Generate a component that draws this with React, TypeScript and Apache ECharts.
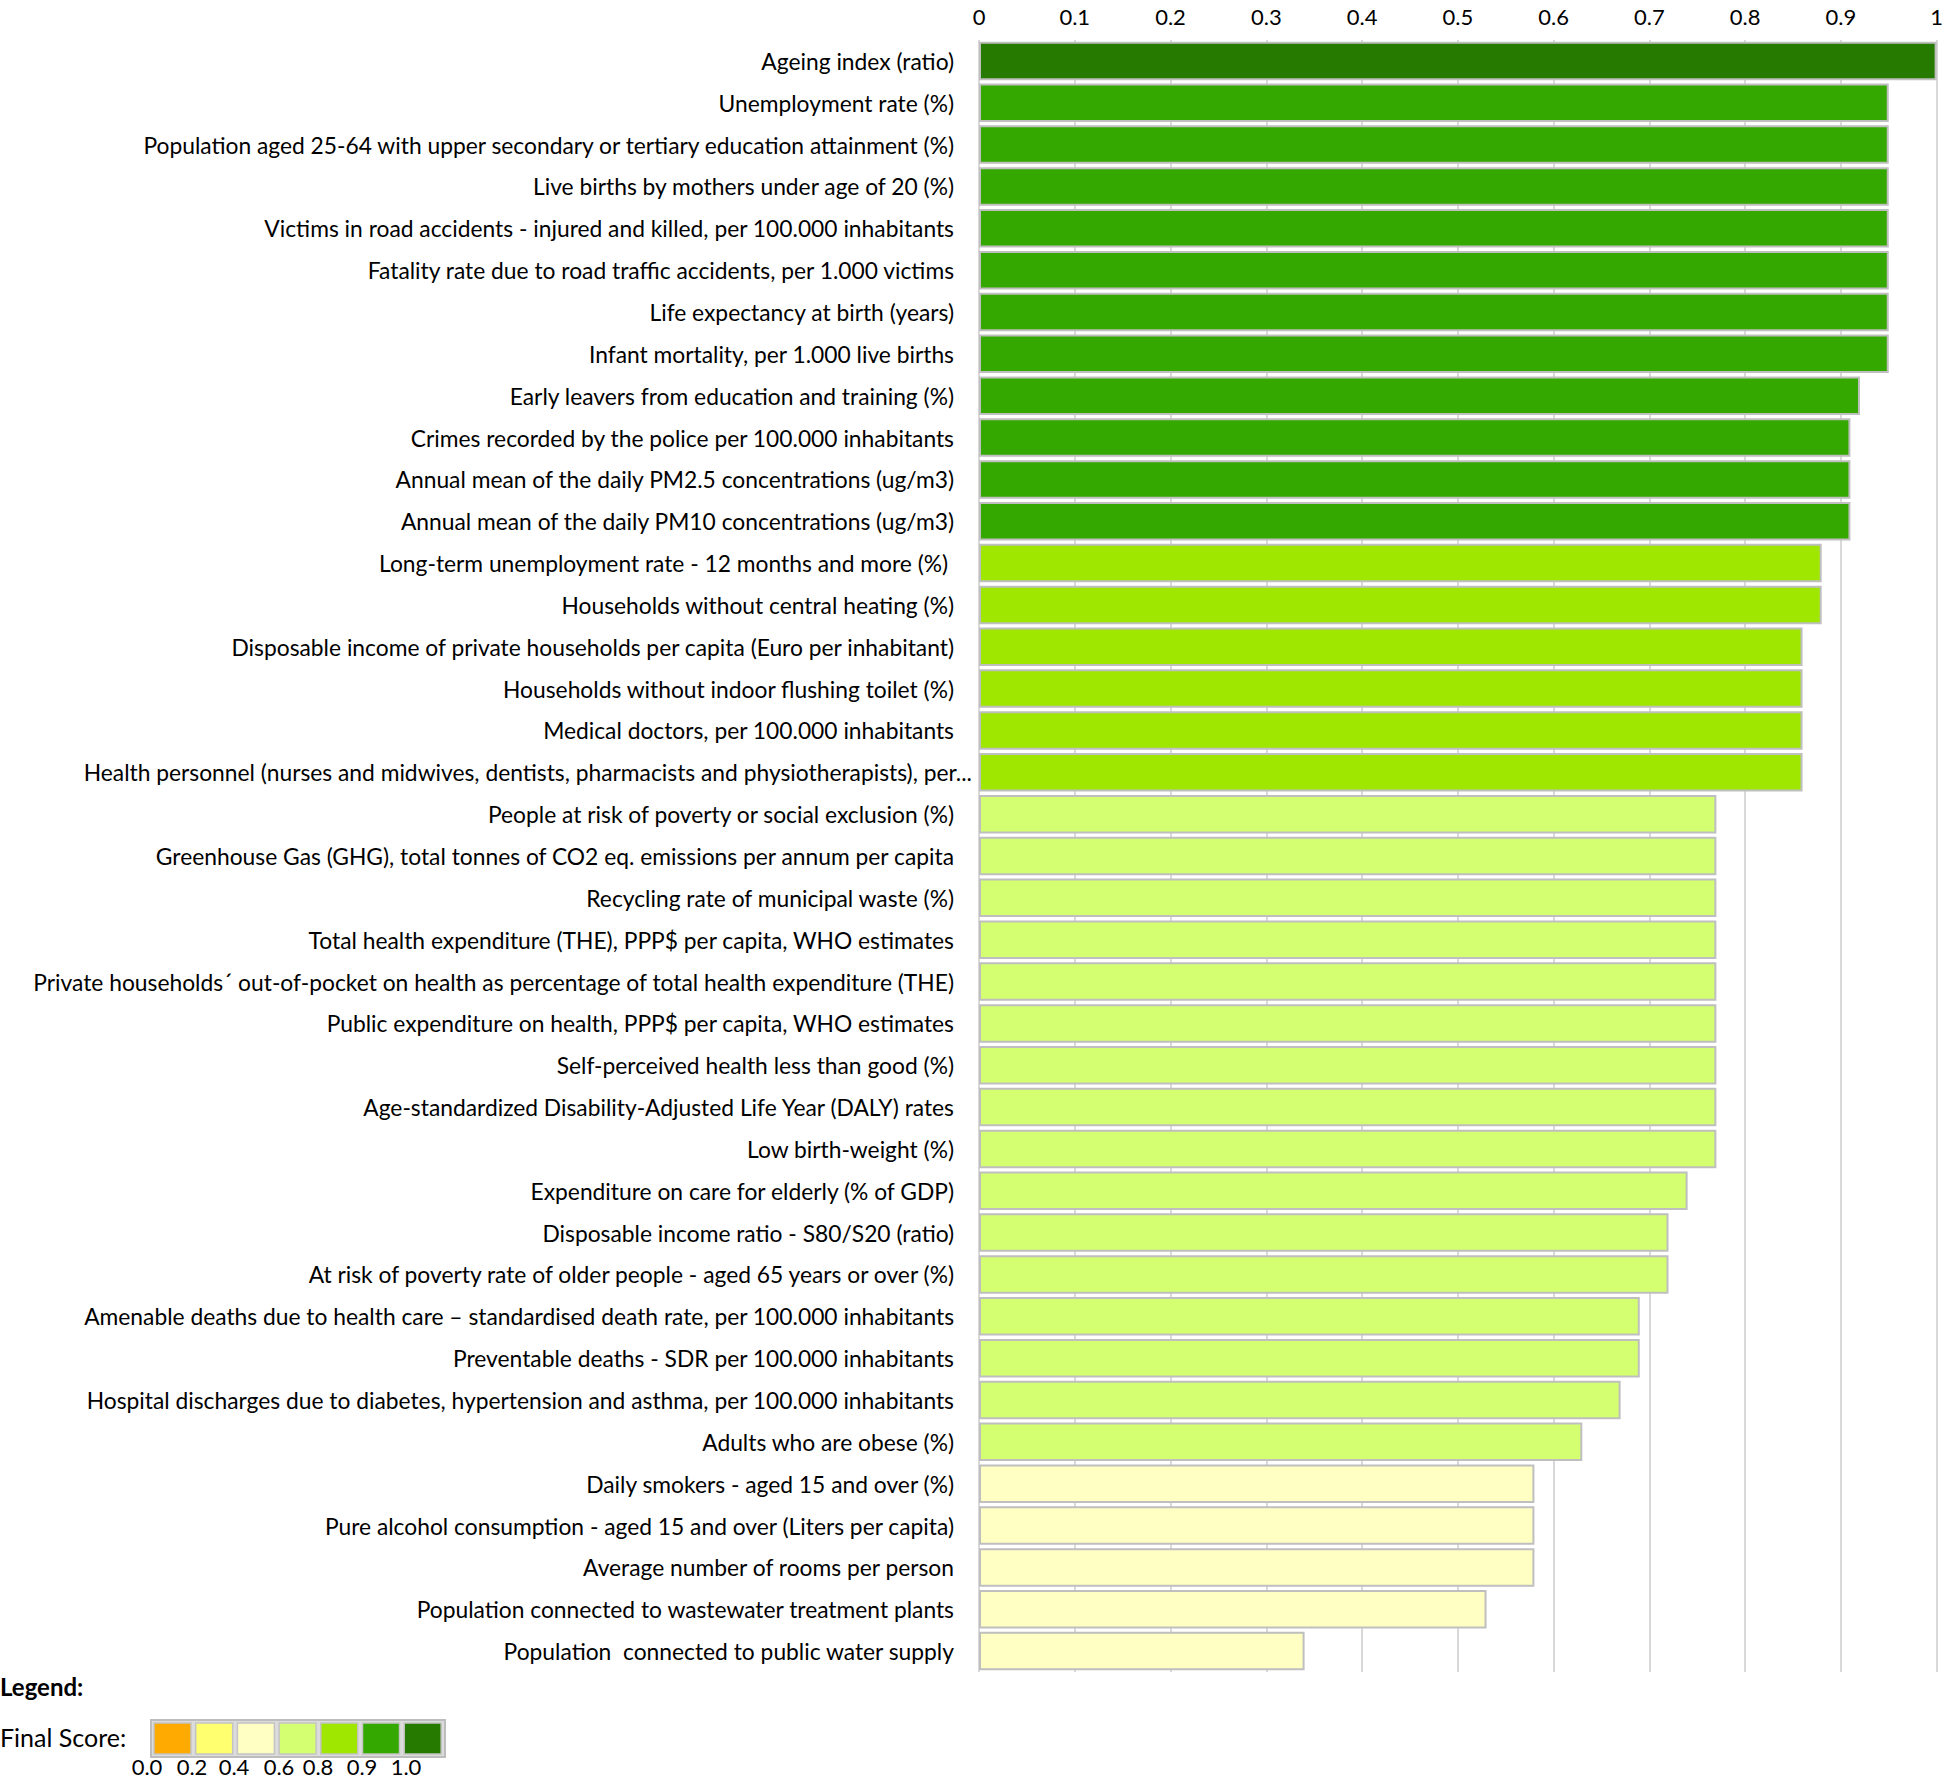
import React, { useEffect, useRef } from "react";
import * as echarts from "echarts";

const indicators: string[] = [
  "Ageing index (ratio)",
  "Unemployment rate (%)",
  "Population aged 25-64 with upper secondary or tertiary education attainment (%)",
  "Live births by mothers under age of 20 (%)",
  "Victims in road accidents - injured and killed, per 100.000 inhabitants",
  "Fatality rate due to road traffic accidents, per 1.000 victims",
  "Life expectancy at birth (years)",
  "Infant mortality, per 1.000 live births",
  "Early leavers from education and training (%)",
  "Crimes recorded by the police per 100.000 inhabitants",
  "Annual mean of the daily PM2.5 concentrations (ug/m3)",
  "Annual mean of the daily PM10 concentrations (ug/m3)",
  "Long-term unemployment rate - 12 months and more (%) ",
  "Households without central heating (%)",
  "Disposable income of private households per capita (Euro per inhabitant)",
  "Households without indoor flushing toilet (%)",
  "Medical doctors, per 100.000 inhabitants",
  "Health personnel (nurses and midwives, dentists, pharmacists and physiotherapists), per...",
  "People at risk of poverty or social exclusion (%)",
  "Greenhouse Gas (GHG), total tonnes of CO2 eq. emissions per annum per capita",
  "Recycling rate of municipal waste (%)",
  "Total health expenditure (THE), PPP$ per capita, WHO estimates",
  "Private households´ out-of-pocket on health as percentage of total health expenditure (THE)",
  "Public expenditure on health, PPP$ per capita, WHO estimates",
  "Self-perceived health less than good (%)",
  "Age-standardized Disability-Adjusted Life Year (DALY) rates",
  "Low birth-weight (%)",
  "Expenditure on care for elderly (% of GDP)",
  "Disposable income ratio - S80/S20 (ratio)",
  "At risk of poverty rate of older people - aged 65 years or over (%)",
  "Amenable deaths due to health care – standardised death rate, per 100.000 inhabitants",
  "Preventable deaths - SDR per 100.000 inhabitants",
  "Hospital discharges due to diabetes, hypertension and asthma, per 100.000 inhabitants",
  "Adults who are obese (%)",
  "Daily smokers - aged 15 and over (%)",
  "Pure alcohol consumption - aged 15 and over (Liters per capita)",
  "Average number of rooms per person",
  "Population connected to wastewater treatment plants",
  "Population  connected to public water supply",
];

const scores: number[] = [
  1.0, 0.95, 0.95, 0.95, 0.95, 0.95, 0.95, 0.95, 0.92, 0.91, 0.91, 0.91,
  0.88, 0.88, 0.86, 0.86, 0.86, 0.86,
  0.77, 0.77, 0.77, 0.77, 0.77, 0.77, 0.77, 0.77, 0.77,
  0.74, 0.72, 0.72, 0.69, 0.69, 0.67, 0.63,
  0.58, 0.58, 0.58, 0.53, 0.34,
];

// legend class index (0..6) of each indicator's final score
const scoreClass: number[] = [
  6, 5, 5, 5, 5, 5, 5, 5, 5, 5, 5, 5,
  4, 4, 4, 4, 4, 4,
  3, 3, 3, 3, 3, 3, 3, 3, 3,
  3, 3, 3, 3, 3, 3, 3,
  2, 2, 2, 2, 2,
];

const legendLabels: string[] = ["0.0", "0.2", "0.4", "0.6", "0.8", "0.9", "1.0"];
const legendColors: string[] = ["#ffaa00", "#ffff70", "#ffffc4", "#d4ff70", "#9fe600", "#35a800", "#267a00"];

const xTicks = { min: 0, max: 1, interval: 0.1 };

const FONT = "Lato";

export default function App() {
  const ref = useRef<HTMLDivElement>(null);
  useEffect(() => {
    if (!ref.current) return;
    const chart = echarts.init(ref.current, null, { renderer: "svg" });

    const boxX0 = 154;
    const boxStep = 41.7;
    const legendGraphics: any[] = [
      {
        type: "text",
        left: 0,
        top: 1674,
        style: { text: "Legend:", font: `bold 24px ${FONT}`, fill: "#000" },
      },
      {
        type: "text",
        left: 0,
        top: 1724,
        style: { text: "Final Score:", font: `25px ${FONT}`, fill: "#000" },
      },
      {
        type: "rect",
        shape: { x: 151, y: 1720, width: 294, height: 37 },
        style: { fill: "#dcdcdc", stroke: "#bdbdbd", lineWidth: 2 },
      },
      ...legendColors.map((c, i) => ({
        type: "rect",
        shape: { x: boxX0 + i * boxStep, y: 1723, width: 37, height: 31 },
        style: { fill: c, stroke: "#c4c4c4", lineWidth: 1.5 },
      })),
      ...legendLabels.map((l, i) => ({
        type: "text",
        x: [147, 192, 234, 279, 318, 362, 406][i],
        y: 1766,
        style: {
          text: l,
          font: `22px ${FONT}`,
          fill: "#000",
          align: "center",
          verticalAlign: "middle",
        },
      })),
    ];

    chart.setOption({
      animation: false,
      backgroundColor: "#ffffff",
      grid: { left: 979, right: 8, top: 40, bottom: 106 },
      xAxis: {
        type: "value",
        position: "top",
        min: xTicks.min,
        max: xTicks.max,
        interval: xTicks.interval,
        axisLine: { show: false },
        axisTick: { show: false },
        axisLabel: { color: "#000", fontSize: 22, fontFamily: FONT, margin: 13 },
        splitLine: { show: true, lineStyle: { color: "#d9d9d9", width: 2 } },
      },
      yAxis: {
        type: "category",
        inverse: true,
        data: indicators.map((name, i) =>
          i === 17
            ? { value: name, textStyle: { padding: [0, -18, 0, 0] } }
            : name
        ),
        axisLine: { show: false },
        axisTick: { show: false },
        axisLabel: {
          color: "#000",
          fontSize: 22.8,
          fontFamily: FONT,
          margin: 25,
          interval: 0,
        },
        splitLine: { show: false },
      },
      series: [
        {
          type: "bar",
          barCategoryGap: "8%",
          data: scores.map((v, i) => ({
            value: v,
            itemStyle: { color: legendColors[scoreClass[i]] },
          })),
          itemStyle: { borderColor: "#bfbfbf", borderWidth: 2 },
        },
      ],
      graphic: legendGraphics,
    });
    return () => chart.dispose();
  }, []);
  return (
    <div
      ref={ref}
      style={{ position: "absolute", left: 0, top: 0, width: 1946, height: 1778 }}
    />
  );
}
